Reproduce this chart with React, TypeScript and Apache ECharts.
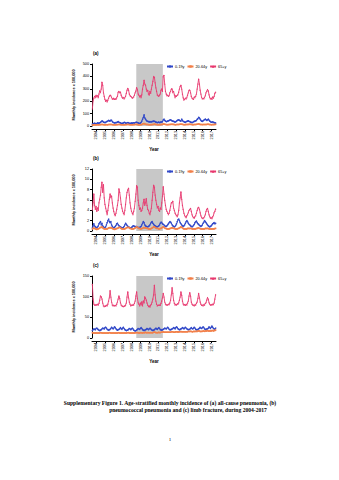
import React, { useEffect, useRef } from "react";
import * as echarts from "echarts";

const years = ["2004","2005","2006","2007","2008","2009","2010","2011","2012","2013","2014","2015","2016","2017"];
const groupNames = ["0-19y", "20-64y", "65+y"];
const panelLabels = ["(a)", "(b)", "(c)"];
const yMaxes = [500, 12, 150];
const yIntervals = [100, 2, 50];
const bandMonths = [60, 96];
const yName = "Monthly incidence x 100,000";
const xName = "Year";
const captionLines = [
  "Supplementary Figure 1. Age-stratified monthly incidence of (a) all-cause pneumonia, (b)",
  "pneumococcal pneumonia and (c) limb fracture, during 2004-2017",
];
const pageNumber = "1";

// (a) all-cause pneumonia
const aChild = [
  15,18,20,22,20,18,20,25,22,24,26,30,
  35,42,38,32,30,28,30,35,38,40,45,42,
  40,48,45,35,30,28,25,28,26,30,32,35,
  30,28,25,22,20,22,25,30,28,24,22,26,
  28,25,22,20,22,24,22,26,25,24,28,30,
  30,28,25,22,20,24,30,40,55,70,90,65,
  55,45,40,38,35,36,32,35,34,38,36,40,
  38,35,32,30,28,30,32,28,30,34,32,35,
  50,55,45,40,35,38,40,42,45,48,50,45,
  42,40,38,35,32,35,40,45,48,50,46,42,
  40,55,45,38,35,32,30,35,38,40,42,38,
  35,32,30,28,30,35,38,40,42,45,55,60,
  70,65,55,45,40,38,42,48,52,55,50,45,
  50,55,48,40,35,32,30,34,30,28,26,24,
];
const aAdult = [
  8,9,9,10,9,9,10,10,9,10,11,11,
  12,13,12,11,10,10,10,11,10,11,12,12,
  12,13,12,11,10,10,10,10,10,11,11,12,
  12,12,11,11,10,10,10,10,10,11,11,12,
  13,12,11,11,10,10,10,10,11,11,12,12,
  13,12,11,11,10,11,11,13,15,18,20,16,
  15,13,12,12,11,11,11,11,11,12,12,13,
  15,14,12,12,11,11,11,11,11,12,12,13,
  16,16,14,12,12,11,11,11,12,12,13,13,
  14,13,13,12,11,11,12,12,12,12,13,14,
  15,14,13,12,11,11,11,12,12,12,13,13,
  14,13,12,12,11,11,12,12,12,13,14,15,
  17,15,13,12,12,11,12,12,12,12,13,13,
  14,14,13,12,12,11,11,12,11,12,12,13,
];
const aElder = [
  140,205,225,240,230,250,235,245,230,260,285,270,
  300,355,330,270,240,215,200,210,195,210,225,240,
  250,245,230,220,215,225,215,220,215,230,240,275,
  280,270,275,250,235,225,230,220,230,240,265,290,
  305,290,260,245,240,235,225,230,235,250,270,285,
  310,295,260,250,235,245,230,255,300,330,370,340,
  330,300,280,290,260,250,280,265,300,330,360,400,
  395,350,310,280,250,245,240,250,260,290,300,280,
  400,410,340,280,260,245,250,240,245,270,280,300,
  300,270,280,255,230,245,240,250,255,275,300,320,
  330,300,260,230,210,215,225,220,230,250,270,290,
  290,270,240,225,220,215,235,230,240,260,300,340,
  380,340,290,260,230,220,225,220,230,245,270,280,
  295,285,255,230,220,225,215,235,225,240,265,275,
];

// (b) pneumococcal pneumonia
const bChild = [
  0.6,1.0,1.4,1.0,0.8,0.7,0.6,0.8,1.0,1.4,1.6,1.8,
  1.2,1.5,1.0,0.8,0.6,0.7,0.8,1.2,1.6,2.0,2.3,1.8,
  1.6,1.8,1.2,0.9,0.7,0.6,0.7,0.9,1.1,1.4,1.5,1.2,
  1.0,0.9,0.8,0.7,0.6,0.6,0.7,0.9,1.2,1.5,1.3,1.1,
  0.9,0.8,0.7,0.6,0.6,0.7,0.8,1.0,1.0,0.9,0.8,0.9,
  0.8,0.7,0.7,0.6,0.7,0.8,0.9,1.2,1.5,1.8,1.6,1.2,
  1.0,0.9,0.8,0.8,0.9,1.0,1.2,1.5,1.7,1.8,1.5,1.3,
  1.1,1.0,0.9,0.8,0.8,0.9,1.0,1.2,1.5,1.7,1.6,1.4,
  1.3,1.2,1.0,0.9,0.9,1.0,1.2,1.4,1.6,1.8,1.7,1.5,
  1.2,1.0,0.9,0.8,0.9,1.1,1.4,1.8,2.2,2.3,2.0,1.6,
  1.4,1.2,1.0,0.9,1.0,1.2,1.5,1.8,2.0,1.8,1.5,1.3,
  1.2,1.0,0.9,0.8,0.9,1.1,1.3,1.6,1.8,1.9,1.6,1.4,
  1.3,1.1,1.0,0.9,1.0,1.2,1.5,1.7,2.0,1.8,1.6,1.4,
  1.2,1.0,0.9,0.8,0.9,1.0,1.2,1.4,1.5,1.6,1.4,1.5,
];
const bAdult = [
  0.4,0.5,0.6,0.5,0.4,0.4,0.3,0.4,0.4,0.5,0.6,0.7,
  0.7,0.8,0.6,0.5,0.4,0.4,0.4,0.4,0.4,0.5,0.6,0.6,
  0.7,0.6,0.6,0.5,0.4,0.4,0.3,0.4,0.4,0.5,0.5,0.6,
  0.7,0.7,0.6,0.5,0.4,0.4,0.4,0.4,0.4,0.5,0.6,0.7,
  0.7,0.7,0.6,0.5,0.5,0.4,0.4,0.4,0.4,0.5,0.6,0.7,
  0.8,0.7,0.6,0.5,0.5,0.4,0.4,0.5,0.5,0.6,0.7,0.6,
  0.6,0.6,0.5,0.5,0.4,0.4,0.4,0.4,0.5,0.6,0.7,0.8,
  0.8,0.7,0.6,0.5,0.5,0.5,0.4,0.4,0.5,0.5,0.6,0.7,
  0.8,0.7,0.6,0.5,0.5,0.4,0.4,0.4,0.4,0.5,0.5,0.6,
  0.6,0.6,0.5,0.5,0.4,0.4,0.4,0.4,0.5,0.5,0.6,0.7,
  0.8,0.7,0.6,0.5,0.4,0.4,0.4,0.4,0.4,0.5,0.5,0.5,
  0.5,0.5,0.5,0.4,0.4,0.4,0.4,0.4,0.4,0.5,0.5,0.6,
  0.6,0.5,0.5,0.4,0.4,0.4,0.4,0.4,0.4,0.5,0.5,0.5,
  0.5,0.5,0.4,0.4,0.4,0.4,0.4,0.4,0.4,0.4,0.5,0.5,
];
const bElder = [
  4.1,5.5,7.2,5.0,4.2,4.8,3.8,4.5,4.0,5.5,6.2,7.0,
  8.5,9.5,7.5,9.0,6.5,5.2,4.5,3.8,3.2,4.0,5.0,6.2,
  7.2,6.5,6.8,5.5,4.5,3.8,3.2,3.0,3.5,4.2,5.0,6.0,
  8.2,7.5,6.5,5.2,4.5,3.8,3.5,3.2,4.0,5.2,6.5,7.5,
  8.0,8.3,7.0,5.5,4.5,3.8,3.5,3.2,3.8,4.5,5.8,7.2,
  8.8,8.5,6.0,5.0,4.2,4.5,3.8,4.0,4.5,5.5,6.2,5.0,
  5.5,6.3,5.0,4.2,4.0,3.5,3.2,3.8,4.5,6.0,7.5,8.9,
  8.5,7.0,6.0,5.2,4.5,4.8,4.0,3.8,4.5,4.2,5.5,6.8,
  8.6,7.2,6.0,5.0,4.2,3.8,3.5,3.2,3.5,4.0,4.8,5.5,
  5.5,5.8,4.5,4.0,3.5,3.2,3.0,2.8,3.2,4.0,5.5,6.5,
  7.6,6.2,5.0,4.2,3.5,3.0,2.8,2.6,3.0,3.2,3.6,4.0,
  4.2,4.4,3.8,3.2,2.8,2.6,2.5,2.8,3.0,3.5,4.0,4.5,
  4.6,4.2,3.6,3.0,2.6,2.5,2.4,2.6,2.8,3.2,3.8,4.2,
  4.4,3.8,3.2,2.8,2.5,2.6,2.4,2.8,3.0,3.6,3.8,4.3,
];

// (c) limb fracture
const cChild = [
  18,20,22,21,20,23,24,22,20,19,18,19,
  20,22,24,23,22,25,26,24,21,20,19,20,
  21,23,26,24,22,24,27,25,22,20,19,20,
  21,22,25,23,21,24,26,23,20,19,18,19,
  19,21,23,22,20,22,24,22,19,18,17,18,
  19,21,23,22,21,23,25,23,20,19,18,19,
  20,21,23,22,20,22,24,22,20,19,18,19,
  20,22,24,22,21,23,25,23,20,20,19,20,
  21,22,24,23,22,24,26,24,21,20,20,21,
  22,23,25,24,22,25,27,25,22,21,20,21,
  22,23,25,24,22,24,26,24,22,21,20,21,
  21,23,25,23,22,24,26,24,21,20,20,21,
  22,24,26,24,23,25,27,25,22,21,20,22,
  22,24,27,25,23,26,29,26,23,22,21,24,
];
const cAdult = [
  13,12,12,12,12,12,12,12,12,12,12,13,
  13,12,12,12,12,12,12,12,12,12,12,13,
  13,12,12,12,12,12,12,12,12,12,12,13,
  13,12,12,12,12,12,12,12,12,12,12,13,
  13,13,12,12,12,12,12,12,12,12,13,13,
  13,13,13,12,12,13,13,13,12,13,13,13,
  14,13,13,13,13,13,13,13,13,13,13,14,
  14,14,13,13,13,13,14,13,13,14,14,14,
  15,14,14,14,14,14,14,14,14,14,14,15,
  15,15,14,14,14,15,15,15,14,15,15,15,
  16,15,15,15,15,15,15,15,15,15,16,16,
  16,16,16,15,15,16,16,16,16,16,16,17,
  17,17,16,16,16,16,17,17,16,17,17,17,
  18,17,17,17,17,17,18,18,17,18,18,19,
];
const cElder = [
  130,95,82,80,80,81,80,82,80,84,92,102,
  100,95,85,78,76,78,77,80,78,82,90,98,
  115,100,88,80,78,80,78,79,78,82,88,95,
  102,96,86,80,78,77,76,78,77,80,85,100,
  112,98,88,82,78,80,79,81,80,84,90,102,
  112,96,86,82,78,85,80,88,78,90,85,100,
  96,92,85,80,76,78,75,80,82,88,95,105,
  128,105,90,82,78,80,79,80,79,84,90,98,
  108,100,88,82,80,81,80,82,81,85,92,105,
  122,108,92,84,80,82,80,83,82,86,92,100,
  112,104,90,83,80,81,79,82,80,85,90,102,
  110,102,88,82,80,80,78,81,80,84,88,96,
  108,98,88,82,79,80,78,81,80,84,86,92,
  98,94,86,82,80,81,80,82,81,85,95,105,
];

const panels = [
  [aChild, aAdult, aElder],
  [bChild, bAdult, bElder],
  [cChild, cAdult, cElder],
];

const colors = ["#3148c8", "#f2804a", "#e8396f"];
const symbols = ["circle", "rect", "triangle"];

export default function App() {
  const ref = useRef<HTMLDivElement>(null);
  useEffect(() => {
    const chart = echarts.init(ref.current!, null, { renderer: "svg" });
    const tops = [64, 169, 276];
    const H = 62;
    const left = 92;
    const W = 124;
    const font = "Liberation Sans";

    const grid: any[] = [];
    const xAxis: any[] = [];
    const yAxis: any[] = [];
    const series: any[] = [];
    const legend: any[] = [];
    const graphic: any[] = [];

    panels.forEach((groups, k) => {
      grid.push({ left, top: tops[k], width: W, height: H });
      xAxis.push({
        type: "value", gridIndex: k, min: 0, max: 168, show: false,
      });
      xAxis.push({
        type: "category", gridIndex: k, data: years, boundaryGap: true,
        position: "bottom", offset: 3,
        axisLine: { show: true, lineStyle: { color: "#000", width: 1 } },
        axisTick: { show: true, alignWithLabel: true, length: 2, lineStyle: { color: "#000" } },
        axisLabel: { rotate: 90, interval: 0, fontSize: 3.8, margin: 2, color: "#000", fontFamily: font },
        splitLine: { show: false },
        name: xName, nameLocation: "middle", nameGap: 18,
        nameTextStyle: { fontSize: 4.5, fontWeight: "bold", color: "#000", fontFamily: font },
      });
      yAxis.push({
        type: "value", gridIndex: k, min: 0, max: yMaxes[k], interval: yIntervals[k],
        offset: 1,
        axisLine: { show: true, lineStyle: { color: "#000", width: 1 } },
        axisTick: { show: true, length: 2, lineStyle: { color: "#000" } },
        axisLabel: { fontSize: 3.8, margin: 2, color: "#000", fontFamily: font },
        splitLine: { show: false },
        name: yName, nameLocation: "middle", nameGap: 15,
        nameTextStyle: { fontSize: 3.8, fontWeight: "bold", color: "#000", fontFamily: font },
      });
      groups.forEach((vals, g) => {
        const s: any = {
          type: "line", name: groupNames[g], xAxisIndex: 2 * k, yAxisIndex: k,
          data: vals.map((v, i) => [i + 0.5, v]),
          symbol: symbols[g], symbolSize: 1.5, showSymbol: true,
          lineStyle: { color: colors[g], width: 0.9 },
          itemStyle: { color: colors[g] },
          z: 2 + g,
        };
        if (g === 0) {
          s.markArea = {
            silent: true,
            itemStyle: { color: "#c8c8c8" },
            data: [[{ xAxis: bandMonths[0] }, { xAxis: bandMonths[1] }]],
          };
        }
        series.push(s);
      });
      legend.push({
        data: groupNames, left: 166, top: tops[k] + 0.5, padding: 0,
        itemWidth: 6, itemHeight: 3, itemGap: 2,
        textStyle: { fontSize: 3.8, color: "#000", fontFamily: font, padding: [0, 0, 0, -3] },
      });
      graphic.push({
        type: "text", left: 93, top: tops[k] - 13,
        style: { text: panelLabels[k], fontSize: 4.5, fontWeight: "bold", fill: "#000", fontFamily: font },
      });
    });

    const captionCenters = [170, 188];
    captionLines.forEach((line, i) => {
      graphic.push({
        type: "text", x: captionCenters[i], y: 403 + i * 7,
        style: {
          text: line, fontSize: 5.6, fontWeight: "bold", fill: "#000",
          fontFamily: "Liberation Serif", align: "center", verticalAlign: "middle",
        },
      });
    });
    graphic.push({
      type: "text", x: 170, y: 439,
      style: { text: pageNumber, fontSize: 5, fill: "#000", fontFamily: "Liberation Serif", align: "center", verticalAlign: "middle" },
    });

    chart.setOption({
      animation: false,
      backgroundColor: "#fff",
      grid, xAxis, yAxis, series, legend, graphic,
    });
    return () => chart.dispose();
  }, []);
  return (
    <div
      ref={ref}
      style={{ position: "absolute", left: 0, top: 0, width: 339, height: 480, background: "#fff" }}
    />
  );
}
